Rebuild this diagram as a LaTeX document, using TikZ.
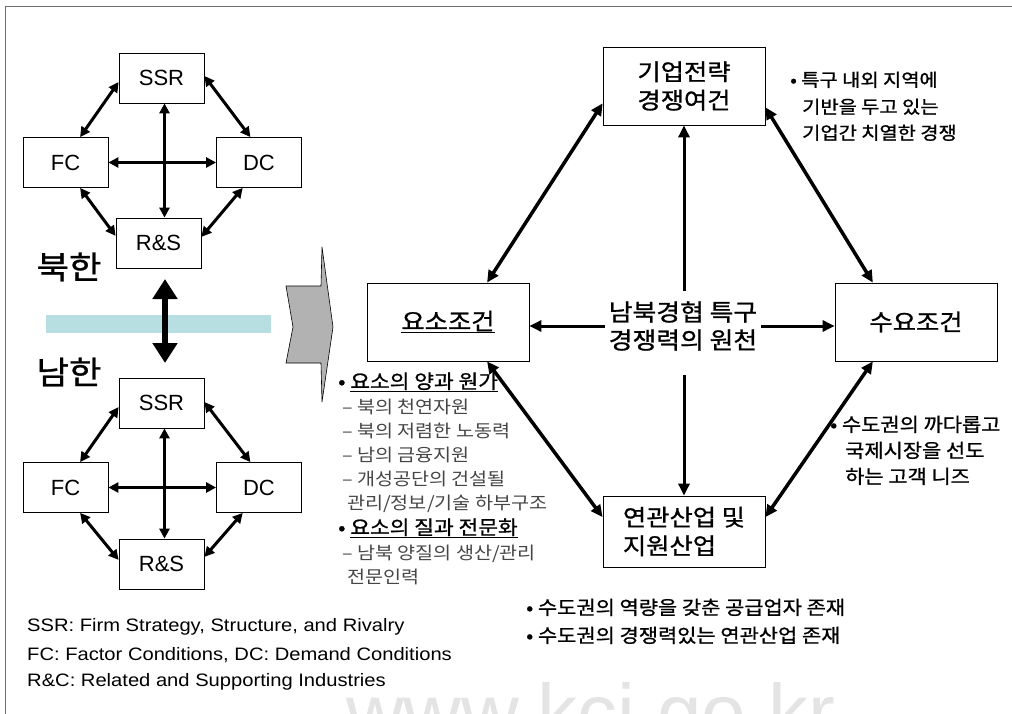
\documentclass[tikz,border=0pt]{standalone}
\usepackage{fontspec}
\setmainfont{Liberation Sans}
\newfontfamily\kr[FakeStretch=1.12]{Noto Sans CJK KR}
\newfontfamily\krb[FakeBold=1,FakeStretch=1.1]{Noto Sans CJK KR}
\newfontfamily\leg[FakeStretch=1.12]{Liberation Sans}
\usetikzlibrary{arrows.meta,calc}
\definecolor{barteal}{RGB}{183,222,224}
\definecolor{chev}{RGB}{178,178,178}
\definecolor{subgray}{RGB}{70,70,70}
\definecolor{framegray}{RGB}{110,110,110}
\definecolor{wmgray}{RGB}{228,228,228}
\begin{document}
\begin{tikzpicture}[x=1pt,y=-1pt,
  bigbox/.style={draw=black, line width=0.8pt, fill=white, inner sep=0pt,
    minimum width=162pt, minimum height=78pt, align=center,
    font=\krb\fontsize{23}{28.5}\selectfont},
  smallbox/.style={draw=black, line width=0.8pt, fill=white, inner sep=0pt,
    minimum width=85pt, minimum height=50pt,
    font=\fontsize{22}{26}\selectfont},
  darr/.style={line width=3.5pt, {Triangle[length=12pt,width=11pt]}-{Triangle[length=12pt,width=11pt]}},
  sarr/.style={line width=3pt, -{Triangle[length=12pt,width=11pt]}},
  larr/.style={line width=3pt, {Triangle[length=10pt,width=10pt]}-{Triangle[length=10pt,width=10pt]}},
  bigarr/.style={line width=6pt, {Triangle[length=20pt,width=24pt]}-{Triangle[length=20pt,width=24pt]}},
  txt/.style={anchor=west, inner sep=0pt, text height=0.8em, text depth=0.1em},
  head/.style={txt, font=\krb\fontsize{19.5}{19.5}\selectfont, text=black},
  sub/.style={txt, font=\kr\fontsize{17.5}{17.5}\selectfont, text=subgray},
  note/.style={txt, font=\krb\fontsize{18}{18}\selectfont, text=black},
  note19/.style={txt, font=\krb\fontsize{19}{19}\selectfont, text=black},
  legend/.style={anchor=west, inner sep=0pt, font=\leg\fontsize{18}{18}\selectfont, text height=0.72em, text depth=0.2em}
]
\useasboundingbox (0,0) rectangle (1012,714);
\fill[white] (0,0) rectangle (1012,714);

% watermark
\node[anchor=base west, inner sep=0pt, text=wmgray, font=\fontsize{80}{80}\selectfont] (wm) at (346,740) {www.kci.go.kr};

% frame
\draw[framegray, line width=0.8pt] (5,714) -- (5,6) -- (1012,6);

% ---------- left: north ----------
\node[smallbox] (nSSR) at (161.5,78) {SSR};
\node[smallbox] (nFC) at (65.5,162.5) {FC};
\node[smallbox] (nDC) at (259,162.5) {DC};
\node[smallbox] (nRS) at (158.5,243) {R\&S};
\draw[larr] ($(nSSR.north west)!0.58!(nSSR.south west)$) -- ($(nFC.north west)!0.67!(nFC.north east)$);
\draw[larr] ($(nSSR.north east)!0.46!(nSSR.south east)$) -- ($(nDC.north west)!0.40!(nDC.north east)$);
\draw[larr] ($(nFC.south west)!0.67!(nFC.south east)$) -- ($(nRS.north west)!0.36!(nRS.south west)$);
\draw[larr] ($(nDC.south west)!0.31!(nDC.south east)$) -- ($(nRS.north east)!0.38!(nRS.south east)$);
\draw[larr] ($(nSSR.south)+(3,0)$) -- ($(nSSR.south |- nRS.north)+(3,0)$);
\draw[larr] (nFC.east) -- (nDC.west);

% ---------- left: south ----------
\node[smallbox] (sSSR) at (161.5,403) {SSR};
\node[smallbox] (sFC) at (65.5,487.5) {FC};
\node[smallbox] (sDC) at (259,487.5) {DC};
\node[smallbox] (sRS) at (161.5,564) {R\&S};
\draw[larr] ($(sSSR.north west)!0.58!(sSSR.south west)$) -- ($(sFC.north west)!0.67!(sFC.north east)$);
\draw[larr] ($(sSSR.north east)!0.48!(sSSR.south east)$) -- ($(sDC.north west)!0.40!(sDC.north east)$);
\draw[larr] ($(sFC.south west)!0.67!(sFC.south east)$) -- ($(sRS.north west)!0.42!(sRS.south west)$);
\draw[larr] ($(sDC.south west)!0.31!(sDC.south east)$) -- ($(sRS.north east)!0.36!(sRS.south east)$);
\draw[larr] ($(sSSR.south)+(3,0)$) -- ($(sRS.north)+(3,0)$);
\draw[larr] (sFC.east) -- (sDC.west);

% labels and bar
\node[font=\krb\fontsize{32}{32}\selectfont, inner sep=0pt] (north) at (69,267) {북한};
\node[font=\krb\fontsize{32}{32}\selectfont, inner sep=0pt] (south) at (69,372) {남한};
\fill[barteal] (46,315) rectangle (271,333);
\coordinate (ba) at (165,279);
\coordinate (bb) at (165,363);
\draw[bigarr] (ba) -- (bb);

% chevron
\filldraw[fill=chev, draw=black, line width=0.6pt] (322,247) -- (333,327) -- (322,402) -- (321,363) -- (286,363) -- (293,327) -- (286,286) -- (321,286) -- cycle;

% ---------- right diagram ----------
\node[bigbox] (se) at (684,86) {기업전략\\경쟁여건};
\node[bigbox] (fc) at (448,322) {\underline{요소조건}};
\node[bigbox] (dc) at (916,322) {수요조건};
\node[bigbox, minimum height=71pt, align=left] (rs) at (684,531.5) {연관산업 및\\지원산업};
\node[font=\krb\fontsize{23.5}{28}\selectfont, align=center, inner sep=4pt] (ctr) at (683,326) {남북경협 특구\\경쟁력의 원천};

\draw[sarr] (ctr.west) -- (ctr.west -| fc.east);
\draw[sarr] (ctr.east) -- (ctr.east -| dc.west);
\coordinate (cu) at (684,291);
\coordinate (cd) at (684,375);
\draw[sarr] (cu) -- (se.south);
\draw[sarr] (cd) -- (rs.north);

\draw[darr] ($(se.north west)!0.72!(se.south west)$) -- ($(fc.north west)!0.74!(fc.north east)$);
\draw[darr] ($(se.north east)!0.77!(se.south east)$) -- ($(dc.north west)!0.235!(dc.north east)$);
\draw[darr] ($(fc.south west)!0.74!(fc.south east)$) -- ($(rs.north west)!0.30!(rs.south west)$);
\draw[darr] ($(dc.south west)!0.235!(dc.south east)$) -- ($(rs.north east)!0.30!(rs.south east)$);

% ---------- annotations ----------
\node[head] (h1) at (338,385) {• \underline{요소의 양과 원가}};
\node[sub] (s1) at (342,410) {– 북의 천연자원};
\node[sub] (s2) at (342,434) {– 북의 저렴한 노동력};
\node[sub] (s3) at (342,458) {– 남의 금융지원};
\node[sub] (s4) at (342,482) {– 개성공단의 건설될};
\node[sub] (s5) at (347,506) {관리/정보/기술 하부구조};
\node[head] (h2) at (338,531) {• \underline{요소의 질과 전문화}};
\node[sub] (s6) at (342,556) {– 남북 양질의 생산/관리};
\node[sub] (s7) at (347,580) {전문인력};

\node[note] (a1) at (790,83) {• 특구 내외 지역에};
\node[note] (a2) at (802,110) {기반을 두고 있는};
\node[note] (a3) at (802,136) {기업간 치열한 경쟁};

\node[note19] (b1) at (830,428) {• 수도권의 까다롭고};
\node[note19] (b2) at (845,454) {국제시장을 선도};
\node[note19] (b3) at (845,480) {하는 고객 니즈};

\node[note19] (c1) at (526,611) {• 수도권의 역량을 갖춘 공급업자 존재};
\node[note19] (c2) at (526,639) {• 수도권의 경쟁력있는 연관산업 존재};

\node[legend] (l1) at (27,629) {SSR: Firm Strategy, Structure, and Rivalry};
\node[legend] (l2) at (27,658) {FC: Factor Conditions, DC: Demand Conditions};
\node[legend] (l3) at (27,684) {R\&C: Related and Supporting Industries};
\end{tikzpicture}
\end{document}
